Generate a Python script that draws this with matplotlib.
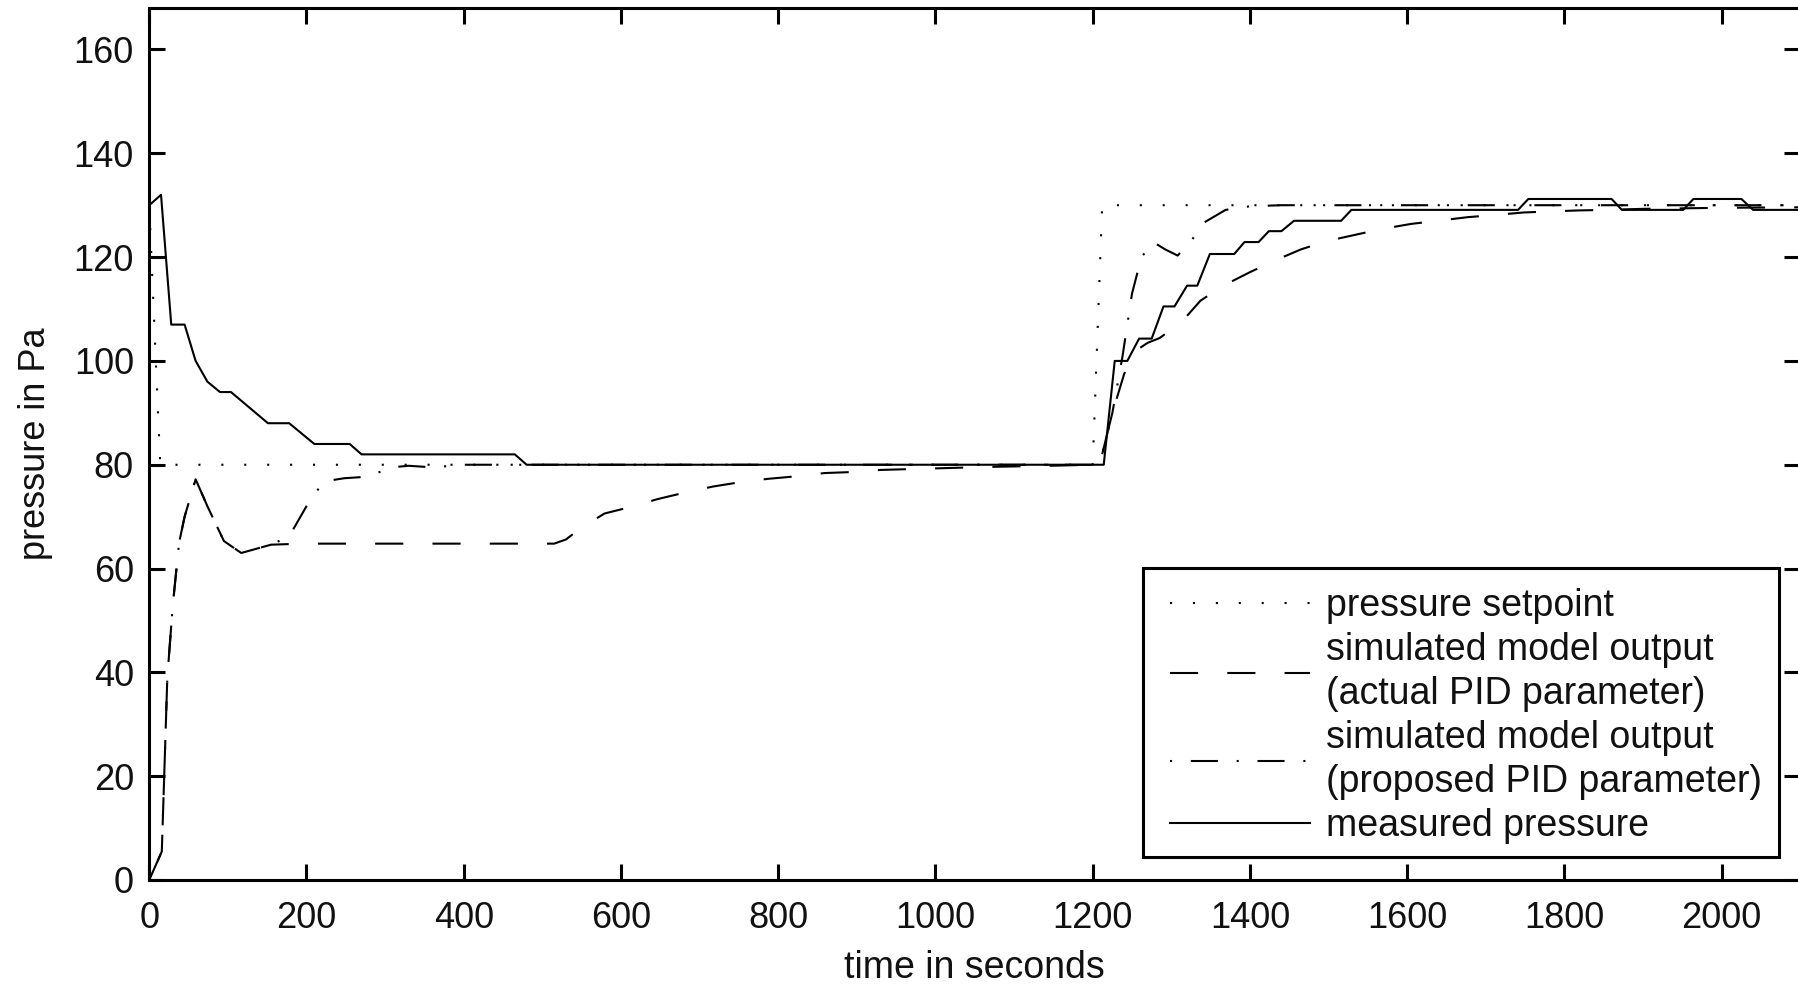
import matplotlib
matplotlib.use("Agg")
import matplotlib.pyplot as plt
from matplotlib.patches import Rectangle

plt.rcParams['font.family'] = ['Liberation Sans', 'DejaVu Sans']

# pressure setpoint
setpoint_t = [0, 14, 1200, 1212, 2100]
setpoint_p = [130, 80, 80, 130, 130]

# simulated model output, actual PID parameter
actual_t = [0, 16, 23, 30, 38, 45, 59, 74, 95, 117, 155, 195, 515, 530, 548, 579,
            613, 647, 683, 717, 754, 788, 825, 859, 895, 930, 1000, 1073, 1145,
            1200, 1212, 1225, 1240, 1255, 1270, 1285, 1313, 1337, 1366, 1400,
            1431, 1465, 1498, 1534, 1567, 1605, 1639, 1677, 1710, 1748, 1781,
            1819, 1854, 1900, 1950, 2000, 2100]
actual_p = [0, 5.5, 39, 53, 65, 70, 77.2, 72, 65.3, 63, 64.6, 64.8, 64.8, 65.6, 67.7, 70.6,
            71.9, 73.4, 74.7, 75.8, 76.7, 77.3, 77.8, 78.4, 78.6, 79, 79.3, 79.6, 79.8,
            80, 82, 90, 97.5, 102, 103.5, 104.4, 107.5, 111.6, 114.5, 117.1,
            119.3, 121.5, 123.1, 124.3, 125.4, 126.4, 127, 127.7, 128.1, 128.6, 128.8,
            129, 129.1, 129.3, 129.4, 129.5, 129.6]

# simulated model output, proposed PID parameter
proposed_t = [0, 16, 23, 30, 38, 45, 59, 74, 95, 117, 155, 178, 206, 223, 248, 278,
              308, 330, 360, 400, 1200, 1212, 1225, 1238, 1250, 1262, 1277, 1292,
              1308, 1326, 1342, 1369, 1400, 1440, 2100]
proposed_p = [0, 5.5, 39, 53, 65, 70, 77.2, 72, 65.3, 63, 64.6, 66.2, 73.6, 76.8, 77.4, 77.7,
              79.5, 79.8, 79.5, 80, 80, 82, 90, 101, 113, 120, 122.9, 121.5,
              120.3, 123.3, 126.7, 129.1, 129.8, 130, 130]

# measured pressure
measured_t = [0, 15, 28, 45, 59, 74, 90, 104, 151, 178, 210, 255, 270, 465, 480,
              1214, 1228, 1244, 1259, 1275, 1290, 1304, 1320, 1333, 1349, 1380,
              1393, 1411, 1424, 1440, 1456, 1516, 1529, 1741, 1754, 1860, 1873,
              1951, 1964, 2025, 2040, 2100]
measured_p = [130, 132, 107, 107, 100, 96, 94, 94, 88, 88, 84, 84, 82, 82, 80,
              80, 100, 100, 104.3, 104.3, 110.5, 110.5, 114.5, 114.5, 120.6, 120.6,
              122.9, 122.9, 125, 125, 127, 127, 129.1, 129.1, 131.2, 131.2, 129.1,
              129.1, 131.2, 131.2, 129.1, 129.1]

labels = ["pressure setpoint",
          "simulated model output\n(actual PID parameter)",
          "simulated model output\n(proposed PID parameter)",
          "measured pressure"]

xticks = list(range(0, 2001, 200))
yticks = list(range(0, 161, 20))

fig = plt.figure(figsize=(17.98, 9.84), dpi=100)
ax = fig.add_axes([0.0830, 0.1057, 0.9183, 0.8862])

ax.plot(setpoint_t, setpoint_p, color='black', lw=1.5, linestyle=(0, (1, 10)), label=labels[0])
ax.plot(actual_t, actual_p, color='black', lw=1.5, linestyle=(0, (13.5, 14)), label=labels[1])
ax.plot(proposed_t, proposed_p, color='black', lw=1.5, linestyle=(22, (13, 9, 1, 9)), label=labels[2])
ax.plot(measured_t, measured_p, color='black', lw=1.5, linestyle='-', label=labels[3])

ax.set_xlim(0, 2100)
ax.set_ylim(0, 168)
ax.set_xticks(xticks)
ax.set_yticks(yticks)
ax.tick_params(direction='in', length=11.5, width=2.2, top=True, right=True,
               labelsize=26, labelcolor='#111111')
ax.tick_params(axis='x', pad=15)
ax.tick_params(axis='y', pad=11)
for s in ax.spines.values():
    s.set_linewidth(2.2)

ax.set_xlabel("time in seconds", fontsize=27, color='#111111')
ax.set_ylabel("pressure in Pa", fontsize=26, color='#111111')
ax.xaxis.set_label_coords(0.5, -0.0805)
ax.yaxis.set_label_coords(-0.058, 0.5)

# legend box drawn separately (asymmetric padding in the original)
ax.add_patch(Rectangle((0.602, 0.0268), 0.3848, 0.3315, transform=ax.transAxes,
                       facecolor='white', edgecolor='black', lw=2.2, zorder=4))
leg = ax.legend(loc='upper left', bbox_to_anchor=(0.618, 0.3349), frameon=False,
                borderpad=0, borderaxespad=0, fontsize=27, handlelength=3.75,
                handletextpad=0.42, labelspacing=0.22)
leg.set_zorder(5)
for t in leg.get_texts():
    t.set_linespacing(1.28)
    t.set_color('#111111')

fig.savefig("out.png", dpi=100)
